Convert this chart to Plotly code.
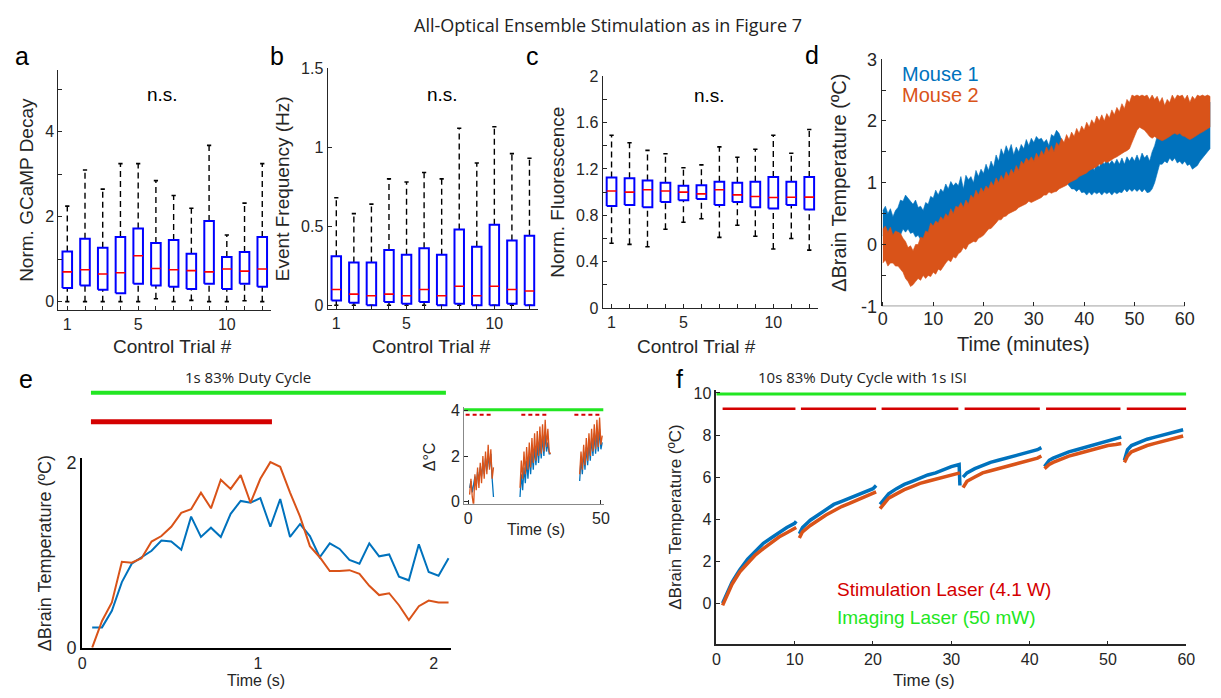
import plotly.graph_objects as go

# ---------------- data ----------------
trials = list(range(1, 13))
# panel a: Norm. GCaMP Decay
a_q1 = [0.32, 0.38, 0.28, 0.20, 0.42, 0.38, 0.35, 0.30, 0.42, 0.30, 0.42, 0.35]
a_med = [0.70, 0.75, 0.65, 0.68, 1.08, 0.78, 0.75, 0.73, 0.70, 0.77, 0.72, 0.77]
a_q3 = [1.18, 1.48, 1.27, 1.52, 1.72, 1.38, 1.45, 1.13, 1.90, 1.05, 1.17, 1.52]
a_lo = [0.00, 0.00, 0.00, 0.00, 0.00, 0.07, 0.00, 0.03, 0.00, 0.00, 0.02, 0.00]
a_hi = [2.25, 3.10, 2.65, 3.25, 3.25, 2.85, 2.50, 2.20, 3.68, 1.57, 2.32, 3.25]
# panel b: Event Frequency (Hz)
b_q1 = [0.03, 0.015, 0.00, 0.02, 0.01, 0.02, 0.00, 0.01, 0.00, 0.00, 0.01, 0.00]
b_med = [0.10, 0.07, 0.06, 0.07, 0.06, 0.10, 0.06, 0.12, 0.06, 0.12, 0.10, 0.09]
b_q3 = [0.31, 0.27, 0.27, 0.35, 0.32, 0.36, 0.32, 0.48, 0.37, 0.51, 0.41, 0.44]
b_lo = [0.00, 0.00, 0.00, 0.00, 0.00, 0.00, 0.00, 0.00, 0.00, 0.00, 0.00, 0.00]
b_hi = [0.68, 0.58, 0.64, 0.80, 0.78, 0.84, 0.80, 1.12, 0.90, 1.13, 0.96, 0.93]
# panel c: Norm. Fluorescence
c_q1 = [0.88, 0.89, 0.87, 0.915, 0.93, 0.94, 0.89, 0.915, 0.87, 0.86, 0.89, 0.85]
c_med = [1.01, 1.00, 1.02, 1.01, 1.00, 0.985, 1.02, 0.976, 0.962, 0.954, 0.956, 0.957]
c_q3 = [1.125, 1.12, 1.10, 1.08, 1.055, 1.06, 1.09, 1.08, 1.09, 1.13, 1.09, 1.13]
c_lo = [0.56, 0.55, 0.53, 0.68, 0.74, 0.77, 0.61, 0.715, 0.62, 0.51, 0.60, 0.50]
c_hi = [1.49, 1.425, 1.36, 1.33, 1.21, 1.235, 1.39, 1.30, 1.37, 1.49, 1.335, 1.54]

# panel d: brain temperature over an hour, envelopes of the noisy traces (every 0.5 min)
d_t = [i / 2 for i in range(131)]
d_m1_hi = [0.55, 0.62, 0.5, 0.58, 0.45, 0.55, 0.6, 0.72, 0.7, 0.8, 0.75, 0.7, 0.65, 0.72, 0.6, 0.62,
           0.55, 0.68, 0.65, 0.78, 0.75, 0.88, 0.8, 0.9, 0.85, 0.98, 0.9, 1.02, 0.95, 1.0, 0.95, 1.1,
           0.9, 1.12, 1.05, 1.1, 1.0, 1.2, 1.1, 1.22, 1.15, 1.3, 1.2, 1.35, 1.25, 1.45, 1.35, 1.55,
           1.45, 1.6, 1.5, 1.62, 1.45, 1.58, 1.5, 1.62, 1.55, 1.7, 1.6, 1.72, 1.65, 1.75, 1.7, 1.72,
           1.65, 1.7, 1.6, 1.78, 1.75, 1.85, 1.8, 1.7, 1.6, 1.45, 1.35, 1.3, 1.25, 1.3, 1.2, 1.25,
           1.15, 1.25, 1.2, 1.3, 1.2, 1.32, 1.25, 1.35, 1.3, 1.38, 1.3, 1.36, 1.3, 1.38, 1.3, 1.4,
           1.3, 1.42, 1.35, 1.42, 1.35, 1.45, 1.35, 1.48, 1.4, 1.45, 1.35, 1.5, 1.6, 1.75, 1.8, 1.92,
           1.85, 1.95, 1.9, 1.98, 1.85, 1.95, 1.85, 1.92, 1.8, 1.95, 1.85, 1.9, 1.8, 1.95, 1.9, 2.05,
           2.1, 2.25, 2.3]
d_m1_lo = [0.15, 0.1, 0.2, 0.12, 0.15, 0.18, 0.2, 0.15, 0.25, 0.2, 0.25, 0.18, 0.2, 0.12, 0.15, 0.08,
           0.1, 0.06, 0.15, 0.12, 0.2, 0.18, 0.25, 0.2, 0.3, 0.25, 0.35, 0.3, 0.35, 0.32, 0.4, 0.35,
           0.4, 0.38, 0.45, 0.42, 0.5, 0.45, 0.5, 0.48, 0.55, 0.52, 0.6, 0.58, 0.65, 0.7, 0.75, 0.72,
           0.8, 0.78, 0.85, 0.82, 0.9, 0.88, 0.95, 0.92, 1.0, 0.98, 1.05, 1.02, 1.1, 1.08, 1.15, 1.1,
           1.15, 1.1, 1.15, 1.12, 1.2, 1.15, 1.2, 1.12, 1.1, 1.0, 0.95, 0.9, 0.9, 0.86, 0.9, 0.84,
           0.85, 0.8, 0.85, 0.8, 0.85, 0.82, 0.85, 0.8, 0.85, 0.82, 0.85, 0.8, 0.85, 0.82, 0.85, 0.84,
           0.9, 0.85, 0.9, 0.86, 0.9, 0.86, 0.9, 0.85, 0.9, 0.84, 0.85, 0.9, 1.0, 1.15, 1.3, 1.3,
           1.35, 1.32, 1.4, 1.35, 1.4, 1.32, 1.35, 1.3, 1.35, 1.28, 1.3, 1.22, 1.25, 1.28, 1.35, 1.4,
           1.45, 1.5, 1.55]
d_m2_hi = [0.25, 0.3, 0.2, 0.28, 0.15, 0.22, 0.2, 0.18, 0.1, 0.05, -0.05, -0.02, -0.1, 0.0, 0.0, 0.12,
           0.1, 0.22, 0.2, 0.35, 0.3, 0.38, 0.35, 0.45, 0.4, 0.5, 0.45, 0.58, 0.5, 0.62, 0.6, 0.68,
           0.6, 0.72, 0.65, 0.8, 0.75, 0.88, 0.8, 0.92, 0.85, 0.95, 0.9, 1.02, 0.95, 1.08, 1.0, 1.12,
           1.05, 1.18, 1.1, 1.22, 1.15, 1.28, 1.2, 1.35, 1.3, 1.4, 1.35, 1.42, 1.35, 1.48, 1.4, 1.52,
           1.45, 1.58, 1.5, 1.6, 1.5, 1.65, 1.6, 1.72, 1.65, 1.78, 1.7, 1.82, 1.75, 1.88, 1.8, 1.92,
           1.85, 1.98, 1.9, 2.02, 1.95, 2.08, 2.0, 2.1, 2.0, 2.12, 2.05, 2.18, 2.1, 2.22, 2.15, 2.28,
           2.2, 2.35, 2.3, 2.42, 2.4, 2.42, 2.4, 2.42, 2.4, 2.42, 2.35, 2.42, 2.35, 2.4, 2.3, 2.38,
           2.25, 2.35, 2.3, 2.42, 2.35, 2.42, 2.4, 2.42, 2.35, 2.42, 2.3, 2.4, 2.35, 2.42, 2.4, 2.42,
           2.4, 2.42, 2.4]
d_m2_lo = [-0.3, -0.25, -0.35, -0.3, -0.3, -0.35, -0.35, -0.4, -0.45, -0.55, -0.6, -0.68, -0.65, -0.6,
           -0.55, -0.58, -0.5, -0.55, -0.5, -0.52, -0.45, -0.48, -0.4, -0.42, -0.35, -0.3, -0.25,
           -0.28, -0.2, -0.22, -0.15, -0.12, -0.05, -0.08, 0.0, 0.02, 0.05, 0.04, 0.1, 0.12, 0.15,
           0.2, 0.25, 0.26, 0.3, 0.35, 0.4, 0.4, 0.45, 0.46, 0.5, 0.52, 0.55, 0.56, 0.6, 0.62, 0.65,
           0.66, 0.7, 0.68, 0.7, 0.72, 0.75, 0.76, 0.8, 0.8, 0.85, 0.83, 0.85, 0.86, 0.9, 0.92, 0.95,
           0.96, 1.0, 1.02, 1.05, 1.06, 1.1, 1.12, 1.15, 1.16, 1.2, 1.22, 1.25, 1.26, 1.3, 1.3, 1.35,
           1.33, 1.35, 1.38, 1.4, 1.42, 1.45, 1.48, 1.5, 1.52, 1.55, 1.65, 1.75, 1.85, 1.9, 1.88,
           1.85, 1.8, 1.75, 1.72, 1.75, 1.72, 1.7, 1.68, 1.7, 1.72, 1.75, 1.78, 1.8, 1.78, 1.8, 1.76,
           1.75, 1.72, 1.7, 1.72, 1.75, 1.78, 1.8, 1.82, 1.85, 1.88, 1.9]
d_xticks = [0, 10, 20, 30, 40, 50, 60]

# panel e: 1 s stimulation
e_t = [0.057, 0.113, 0.169, 0.226, 0.282, 0.338, 0.395, 0.451, 0.507, 0.564, 0.620, 0.676,
       0.733, 0.789, 0.845, 0.902, 0.958, 1.014, 1.071, 1.127, 1.183, 1.240, 1.296, 1.352,
       1.409, 1.465, 1.521, 1.578, 1.634, 1.690, 1.747, 1.803, 1.859, 1.916, 1.972, 2.028, 2.085]
e_m1 = [0.22, 0.22, 0.40, 0.71, 0.91, 0.98, 1.05, 1.16, 1.15, 1.06, 1.42, 1.20, 1.30, 1.20,
        1.45, 1.59, 1.57, 1.62, 1.31, 1.61, 1.20, 1.34, 1.21, 0.98, 1.13, 1.07, 0.95, 0.91,
        1.13, 0.99, 1.01, 0.77, 0.73, 1.12, 0.82, 0.78, 0.97]
e_m2 = [0.00, 0.29, 0.49, 0.93, 0.92, 0.97, 1.15, 1.21, 1.31, 1.46, 1.50, 1.68, 1.51, 1.82,
        1.72, 1.87, 1.57, 1.83, 2.01, 1.96, 1.68, 1.42, 1.10, 0.98, 0.83, 0.83, 0.84, 0.80,
        0.67, 0.57, 0.59, 0.46, 0.30, 0.45, 0.51, 0.49, 0.49]
e_imaging_on = [0.05, 2.07]
e_stim_on = [0.05, 1.08]

# panel e inset: repeated 10 s trains
in_t = [0.5, 1, 1.5, 2, 2.5, 3, 3.5, 4, 4.5, 5, 5.5, 6, 6.5, 7, 7.5, 8, 8.5, 9, 9.5, None,
        19.5, 20, 20.5, 21, 21.5, 22, 22.5, 23, 23.5, 24, 24.5, 25, 25.5, 26, 26.5, 27, 27.5,
        28, 28.5, 29, 29.5, 30, 30.5, 31, None,
        42, 42.5, 43, 43.5, 44, 44.5, 45, 45.5, 46, 46.5, 47, 47.5, 48, 48.5, 49, 49.5, 50, 50.5]
in_m1 = [0.6, 0.9, 0.4, 0.8, 1.1, 0.7, 1.3, 0.9, 1.5, 1.1, 1.7, 1.2, 1.9, 1.4, 2.0, 1.5, 2.1, 1.0, 0.2, None,
         0.2, 1.2, 0.5, 1.5, 0.8, 1.8, 1.0, 2.0, 1.2, 2.2, 1.4, 2.4, 1.6, 2.5, 1.7, 2.7, 1.9,
         2.9, 2.0, 3.0, 2.2, 2.6, 2.1, 2.1, None,
         0.9, 1.9, 1.2, 2.2, 1.4, 2.4, 1.6, 2.6, 1.8, 2.8, 2.0, 3.0, 2.1, 3.1, 2.2, 3.2, 2.3, 2.6]
in_m2 = [0.3, 1.0, 0.2, -0.2, 1.2, 0.5, 1.5, 0.6, 1.7, 0.8, 2.0, 1.0, 2.2, 1.2, 2.5, 1.4, 2.3, 1.0, 1.5, None,
         0.6, 1.8, 1.0, 2.2, 1.2, 2.4, 1.4, 2.6, 1.5, 2.8, 1.7, 3.0, 1.8, 3.1, 2.0, 3.3, 2.1,
         3.4, 2.2, 3.6, 2.4, 3.2, 2.2, 2.1, None,
         1.2, 2.2, 1.4, 2.5, 1.6, 2.8, 1.8, 3.0, 2.0, 3.2, 2.2, 3.4, 2.3, 3.6, 2.4, 3.7, 2.5, 2.9]
in_imaging_on = [-1.6, 51.0]
in_stim_on = [[-1.0, 8.5], [20.0, 30.0], [40.0, 50.0]]

# panel f: 10 s trains with 1 s ISI
f_t = [0.8, 1.5, 2, 2.5, 3, 4, 5, 6, 7, 8, 9, 10, 10.2, None,
       10.6, 11, 12, 13, 14, 15, 16, 17, 18, 19, 20, 20.4, None,
       20.9, 21.5, 22, 23, 24, 25, 26, 27, 28, 29, 30, 31, 31.1, None,
       31.5, 32, 33, 34, 35, 36, 37, 38, 39, 40, 41, 41.5, None,
       41.9, 42.5, 43, 44, 45, 46, 47, 48, 49, 50, 51, 51.7, None,
       52.1, 52.5, 53, 54, 55, 56, 57, 58, 59, 59.6]
f_m1 = [0.0, 0.6, 1.0, 1.3, 1.6, 2.1, 2.5, 2.85, 3.1, 3.35, 3.6, 3.8, 3.9, None,
        3.3, 3.6, 3.95, 4.2, 4.45, 4.7, 4.85, 5.0, 5.15, 5.3, 5.45, 5.6, None,
        4.7, 5.0, 5.2, 5.45, 5.65, 5.8, 5.95, 6.1, 6.2, 6.35, 6.5, 6.6, 5.6, None,
        6.0, 6.2, 6.4, 6.55, 6.7, 6.8, 6.9, 7.0, 7.1, 7.2, 7.3, 7.4, None,
        6.5, 6.8, 6.9, 7.05, 7.2, 7.3, 7.4, 7.5, 7.6, 7.7, 7.8, 7.9, None,
        6.8, 7.3, 7.5, 7.65, 7.8, 7.9, 8.0, 8.1, 8.2, 8.25]
f_m2 = [-0.1, 0.5, 0.9, 1.2, 1.5, 1.9, 2.3, 2.6, 2.9, 3.15, 3.35, 3.55, 3.6, None,
        3.1, 3.4, 3.7, 3.95, 4.2, 4.4, 4.6, 4.75, 4.9, 5.05, 5.2, 5.3, None,
        4.5, 4.8, 5.0, 5.2, 5.4, 5.55, 5.7, 5.8, 5.9, 6.0, 6.1, 6.2, 6.2, None,
        5.5, 5.8, 6.0, 6.2, 6.3, 6.4, 6.5, 6.6, 6.7, 6.8, 6.9, 7.0, None,
        6.4, 6.6, 6.7, 6.85, 7.0, 7.1, 7.2, 7.3, 7.4, 7.5, 7.55, 7.6, None,
        6.7, 7.0, 7.2, 7.35, 7.5, 7.6, 7.7, 7.8, 7.9, 7.95]
f_imaging_on = [0.0, 60.0]
f_stim_on = [[0.8, 10.1], [10.8, 20.4], [21.1, 30.9], [31.7, 41.3], [42.1, 51.6], [52.4, 60.0]]

# ---------------- style / geometry ----------------
W, H = 1221, 698
ARIAL = "Liberation Sans, Arial, sans-serif"
SANS = "Open Sans, Noto Sans, sans-serif"
AXC = "#262626"
BLUE = "#0072BD"
ORANGE = "#D95319"
GREEN = "#22E622"
RED = "#D40000"


def dom_x(a, b):
    return [a / W, b / W]


def dom_y(top, bot):
    return [1 - bot / H, 1 - top / H]


def px(x):
    return x / W


def py(y):
    return 1 - y / H


fig = go.Figure()


def line(xa, ya, x, y, color, width=2, dash=None, fill=None, fillcolor=None):
    fig.add_trace(go.Scatter(x=x, y=y, xaxis=xa, yaxis=ya, mode="lines",
                             line=dict(color=color, width=width, dash=dash),
                             fill=fill, fillcolor=fillcolor,
                             hoverinfo="skip", showlegend=False, connectgaps=False))


def add_boxes(xa, ya, q1, med, q3, lo, hi):
    hw, cw = 0.27, 0.12
    bx, by, wx, wy, cx, cy, mx, my = [], [], [], [], [], [], [], []
    for p, a, m, b, l, h in zip(trials, q1, med, q3, lo, hi):
        bx += [p - hw, p + hw, p + hw, p - hw, p - hw, None]
        by += [a, a, b, b, a, None]
        wx += [p, p, None, p, p, None]
        wy += [b, h, None, l, a, None]
        cx += [p - cw, p + cw, None, p - cw, p + cw, None]
        cy += [h, h, None, l, l, None]
        mx += [p - hw, p + hw, None]
        my += [m, m, None]
    line(xa, ya, wx, wy, "black", 1.4, dash="6px,4px")
    line(xa, ya, cx, cy, "black", 1.6)
    line(xa, ya, bx, by, "#0000FF", 2)
    line(xa, ya, mx, my, "#FF0000", 1.6)


add_boxes("x", "y", a_q1, a_med, a_q3, a_lo, a_hi)
add_boxes("x2", "y2", b_q1, b_med, b_q3, b_lo, b_hi)
add_boxes("x3", "y3", c_q1, c_med, c_q3, c_lo, c_hi)

# panel d bands
line("x4", "y4", d_t + d_t[::-1], d_m1_lo + d_m1_hi[::-1], BLUE, 0.6, fill="toself", fillcolor=BLUE)
line("x4", "y4", d_t + d_t[::-1], d_m2_lo + d_m2_hi[::-1], ORANGE, 0.6, fill="toself", fillcolor=ORANGE)

# panel e
line("x5", "y5", e_t, e_m1, BLUE, 2)
line("x5", "y5", e_t, e_m2, ORANGE, 2)

# inset
line("x6", "y6", in_imaging_on, [4.04, 4.04], GREEN, 3)
sx, sy = [], []
for s0, s1 in in_stim_on:
    sx += [s0, s1, None]
    sy += [3.82, 3.82, None]
line("x6", "y6", sx, sy, RED, 2, dash="4px,3px")
line("x6", "y6", in_t, in_m1, BLUE, 1.3)
line("x6", "y6", in_t, in_m2, ORANGE, 1.3)

# panel f
line("x7", "y7", f_imaging_on, [9.95, 9.95], GREEN, 3)
sx, sy = [], []
for s0, s1 in f_stim_on:
    sx += [s0, s1, None]
    sy += [9.25, 9.25, None]
line("x7", "y7", sx, sy, RED, 2.5)
line("x7", "y7", f_t, f_m1, BLUE, 3.5)
line("x7", "y7", f_t, f_m2, ORANGE, 3.5)


def axis(domain, rng, anchor, tickvals=None, ticktext=None, size=16, title=None,
         tsize=19, standoff=None, **kw):
    d = dict(domain=domain, range=rng, anchor=anchor, showline=True, linecolor=AXC,
             linewidth=1, ticks="inside", ticklen=4, tickcolor=AXC,
             tickfont=dict(family=ARIAL, size=size, color=AXC),
             showgrid=False, zeroline=False, fixedrange=True)
    if tickvals is not None:
        d.update(tickmode="array", tickvals=tickvals,
                 ticktext=ticktext if ticktext is not None else [str(v) for v in tickvals])
    if title:
        t = dict(text=title, font=dict(family=ARIAL, size=tsize, color=AXC))
        if standoff is not None:
            t["standoff"] = standoff
        d["title"] = t
    d.update(kw)
    return d


trial_text = ["1", "", "", "", "5", "", "", "", "", "10", "", ""]

layout = dict(
    width=W, height=H, margin=dict(l=0, r=0, t=0, b=0),
    paper_bgcolor="white", plot_bgcolor="rgba(0,0,0,0)", showlegend=False,
    # a
    xaxis=axis(dom_x(55, 270), [0.5, 12.5], "y", trials, trial_text),
    yaxis=axis(dom_y(62, 309), [-0.2, 5.45], "x", [0, 1, 2, 3, 4, 5], ["0", "", "2", "", "4", ""],
               title="Norm. GCaMP Decay", standoff=6),
    # b
    xaxis2=axis(dom_x(327, 540), [0.5, 12.5], "y2", trials, trial_text),
    yaxis2=axis(dom_y(60, 308), [-0.025, 1.5], "x2", [0, 0.5, 1, 1.5], ["0", "0.5", "1", "1.5"],
                title="Event Frequency (Hz)", standoff=6),
    # c
    xaxis3=axis(dom_x(605, 823), [0.5, 12.5], "y3", trials, trial_text),
    yaxis3=axis(dom_y(68, 307), [0, 2], "x3",
                [0, 0.2, 0.4, 0.6, 0.8, 1.0, 1.2, 1.4, 1.6, 1.8, 2.0],
                ["0", "", "0.4", "", "0.8", "", "1.2", "", "1.6", "", "2"],
                title="Norm. Fluorescence", standoff=6),
    # d
    xaxis4=axis(dom_x(887, 1221), [-0.26, 65.4], "y4", d_xticks, None, size=18, showline=False),
    yaxis4=axis(dom_y(50.7, 305), [-1, 3], "x4", [-1, -0.5, 0, 0.5, 1, 1.5, 2, 2.5, 3],
                ["-1", "", "0", "", "1", "", "2", "", "3"], size=18,
                title="\u0394Brain Temperature (\u00baC)", tsize=20, standoff=8),
    # e
    xaxis5=axis(dom_x(79, 452), [0, 2.1], "y5", [0, 1, 2], ["0", "1", "2"], size=16,
                ticks="", linecolor="black", linewidth=2),
    yaxis5=axis(dom_y(461.7, 656.5), [0, 2.05], "x5", [0, 2], ["0", "2"], size=18,
                ticks="", linecolor="black", linewidth=2,
                title="\u0394Brain Temperature (\u00baC)", tsize=18, standoff=10),
    # inset
    xaxis6=axis(dom_x(465, 606), [-1.6, 51], "y6", [0, 50], ["0", "50"], size=16,
                linecolor="#888888"),
    yaxis6=axis(dom_y(409, 508.3), [-0.1, 4.15], "x6", [0, 2, 4], ["0", "2", "4"], size=16,
                linecolor="#888888"),
    # f
    xaxis7=axis(dom_x(720, 1195), [0, 60], "y7", [0, 10, 20, 30, 40, 50, 60], None, size=16,
                linewidth=1.5),
    yaxis7=axis(dom_y(391, 653), [-1.95, 10.15], "x7", [0, 2, 4, 6, 8, 10], None, size=16,
                linewidth=1.5,
                title="\u0394Brain Temperature (\u00baC)", tsize=17, standoff=8),
)

shapes = [
    dict(type="line", xref="x5", yref="paper", x0=e_imaging_on[0], x1=e_imaging_on[1],
         y0=py(394), y1=py(394), line=dict(color=GREEN, width=4)),
    dict(type="line", xref="x5", yref="paper", x0=e_stim_on[0], x1=e_stim_on[1],
         y0=py(424), y1=py(424), line=dict(color=RED, width=5)),
    dict(type="line", xref="x4", yref="y4", x0=-0.26, x1=d_xticks[-1], y0=-1, y1=-1,
         line=dict(color=AXC, width=1)),
]


def ann(text, x, y, size=19, color=AXC, family=ARIAL, xanchor="center", angle=0):
    return dict(text=text, x=px(x), y=py(y), xref="paper", yref="paper", showarrow=False,
                font=dict(family=family, size=size, color=color), xanchor=xanchor,
                yanchor="middle", textangle=angle)


annotations = [
    ann("All-Optical Ensemble Stimulation as in Figure 7", 610, 15, 18, "#222222", SANS),
    ann("a", 18, 47, 25, "black"), ann("b", 276, 47, 25, "black"),
    ann("c", 534, 47, 25, "black"), ann("d", 817, 46, 25, "black"),
    ann("e", 22, 380, 25, "black"), ann("f", 683, 380, 25, "black"),
    ann("n.s.", 160, 87, 19, "black"), ann("n.s.", 443, 87, 19, "black"),
    ann("n.s.", 713, 88, 19, "black"),
    ann("Control Trial #", 170, 346, 19), ann("Control Trial #", 432, 346, 19),
    ann("Control Trial #", 700, 346, 19),
    ann("Time (minutes)", 1030, 344, 20),
    ann("Mouse 1", 906, 66, 20, BLUE, xanchor="left"),
    ann("Mouse 2", 906, 88, 20, ORANGE, xanchor="left"),
    ann("1s 83% Duty Cycle", 247, 378, 15, "#222222", SANS),
    ann("Time (s)", 255, 690, 16),
    ann("\u0394\u00b0C", 430, 460, 16, angle=-90),
    ann("Time (s)", 538, 535, 16),
    ann("10s 83% Duty Cycle with 1s ISI", 868, 378, 15, "#222222", SANS),
    ann("Time (s)", 930, 690, 17),
    ann("Stimulation Laser (4.1 W)", 840, 597, 19, RED, xanchor="left"),
    ann("Imaging Laser (50 mW)", 840, 625, 19, GREEN, xanchor="left"),
]

layout["shapes"] = shapes
layout["annotations"] = annotations
fig.update_layout(**layout)
fig.write_html("out.html")
